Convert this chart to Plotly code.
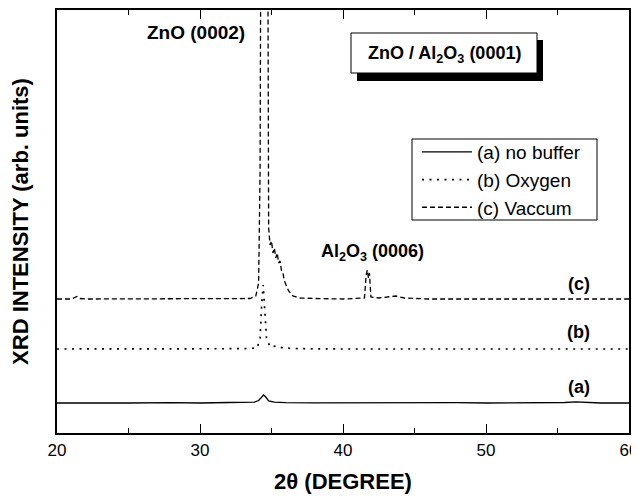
import plotly.graph_objects as go

# ---- data (arbitrary intensity units) ----
x_a = [20, 22, 25, 28, 30, 32, 33, 33.8, 34.1, 34.3, 34.45, 34.6, 34.8, 35.2, 36, 38, 40, 42, 45, 48, 50, 52, 54, 55.5, 56.3, 57, 58, 60]
y_a = [30, 30.3, 30, 30.4, 30, 30.5, 30.3, 30.8, 32.5, 36, 38, 36, 32, 30.8, 30.4, 30.2, 30.3, 30.4, 30.1, 30.3, 30, 30.2, 30, 30.5, 31.2, 30.6, 30, 30]

x_b = [20, 25, 30, 33, 34.0, 34.2, 34.32, 34.42, 34.52, 34.65, 34.9, 35.3, 35.8, 37, 40, 45, 50, 55, 60]
y_b = [84, 84, 84, 84.3, 85, 95, 130, 148, 125, 95, 86, 87, 85, 84.3, 84, 84, 84, 84, 84]

x_c = [20, 21.0, 21.4, 21.6, 22.2, 25, 28, 30, 32, 33.5, 33.9, 34.1, 34.2, 34.3, 34.7, 34.8, 34.9, 35.0, 35.1, 35.2,
       35.3, 35.4, 35.5, 35.6, 35.7, 35.8, 35.9, 36.0, 36.2, 36.5, 37, 38, 40, 41.5, 41.62, 41.7, 41.78, 41.85, 41.95,
       42.5, 43.3, 43.7, 44.3, 46, 50, 55, 60]
y_c = [134, 134, 136.5, 134.5, 134, 134, 134, 134, 134, 134.5, 137, 150, 260, 700, 700, 205, 188, 192, 180, 185,
       175, 180, 170, 172, 162, 160, 152, 148, 142, 137, 135, 134.5, 134, 135, 158, 163, 155, 160, 136,
       135, 136.5, 137, 135, 134, 134, 134, 134]

names = ["(a) no buffer", "(b) Oxygen", "(c) Vaccum"]
curve_labels = ["(a)", "(b)", "(c)"]
label_x = [56.5, 56.5, 56.5]
label_y = [46, 101, 149]
x_ticks = [20, 30, 40, 50, 60]

FONT = "Liberation Sans, Arial, sans-serif"

fig = go.Figure()
fig.add_trace(go.Scatter(x=x_a, y=y_a, mode="lines", name=names[0],
                         line=dict(color="black", width=1.3, dash="solid")))
fig.add_trace(go.Scatter(x=x_b, y=y_b, mode="lines", name=names[1],
                         line=dict(color="black", width=1.7, dash="2px,5.5px")))
fig.add_trace(go.Scatter(x=x_c, y=y_c, mode="lines", name=names[2],
                         line=dict(color="black", width=1.3, dash="5px,3px")))

# curve labels
for t, xx, yy in zip(curve_labels, label_x, label_y):
    fig.add_annotation(x=xx, y=yy, text="<b>%s</b>" % t, showarrow=False,
                       font=dict(family=FONT, size=18, color="black"))

fig.add_annotation(x=33.3, y=401, xanchor="right", yanchor="middle", text="<b>ZnO (0002)</b>", showarrow=False,
                   font=dict(family=FONT, size=19, color="black"))
fig.add_annotation(x=42.06, y=181, xanchor="center", yanchor="middle",
                   text="<b>Al<sub>2</sub>O<sub>3</sub> (0006)</b>", showarrow=False,
                   font=dict(family=FONT, size=18, color="black"))

# decorations placed in screen pixels of the plot frame
def px2paper_x(p):
    return (p - 57) / 572.0

def px2paper_y(p):
    return (433 - p) / 423.0

# title box with shadow
fig.add_shape(type="rect", xref="paper", yref="paper",
              x0=px2paper_x(357), x1=px2paper_x(543), y0=px2paper_y(81), y1=px2paper_y(40),
              fillcolor="black", line=dict(width=0), layer="above")
fig.add_shape(type="rect", xref="paper", yref="paper",
              x0=px2paper_x(351), x1=px2paper_x(537), y0=px2paper_y(73), y1=px2paper_y(33),
              fillcolor="white", line=dict(color="black", width=1), layer="above")
fig.add_annotation(xref="paper", yref="paper", x=px2paper_x(444), y=px2paper_y(54),
                   xanchor="center", yanchor="middle",
                   text="<b>ZnO / Al<sub>2</sub>O<sub>3</sub> (0001)</b>", showarrow=False,
                   font=dict(family=FONT, size=18, color="black"))

# legend frame
fig.add_shape(type="rect", xref="paper", yref="paper",
              x0=px2paper_x(412), x1=px2paper_x(597), y0=px2paper_y(220), y1=px2paper_y(139),
              fillcolor="white", line=dict(color="black", width=1), layer="above")

# the page body has an 8px margin, so the figure starts at (8, 8) on screen;
# margins are chosen so the plot frame lands at x 57..629, y 10..433 on screen.
fig.update_layout(
    width=639, height=499,
    margin=dict(l=49, r=18, t=2, b=74, autoexpand=False),
    plot_bgcolor="white", paper_bgcolor="white",
    font=dict(family=FONT, color="black"),
    showlegend=True,
    legend=dict(x=px2paper_x(417), xanchor="left", y=px2paper_y(133), yanchor="top",
                borderwidth=0, bgcolor="rgba(0,0,0,0)",
                font=dict(family=FONT, size=19, color="black"),
                itemwidth=50, tracegroupgap=0),
    xaxis=dict(range=[20, 60], tickmode="array", tickvals=x_ticks, ticktext=[str(v) for v in x_ticks],
               ticks="inside", ticklen=9, tickwidth=1, tickcolor="black", ticklabelstandoff=1,
               minor=dict(dtick=5, ticks="inside", ticklen=5, tickwidth=1, tickcolor="black"),
               showline=True, linecolor="black", linewidth=1.5, mirror="ticks",
               showgrid=False, zeroline=False, automargin=False,
               tickfont=dict(family=FONT, size=17, color="black"),
               title=dict(text="<b>2θ (DEGREE)</b>", font=dict(family=FONT, size=22, color="black"), standoff=14)),
    yaxis=dict(range=[0, 423], showticklabels=False, ticks="",
               showline=True, linecolor="black", linewidth=1.5, mirror=True,
               showgrid=False, zeroline=False, automargin=False,
               title=dict(text="<b>XRD INTENSITY (arb. units)</b>", font=dict(family=FONT, size=22, color="black"), standoff=22)),
)

fig.write_html("out.html")
